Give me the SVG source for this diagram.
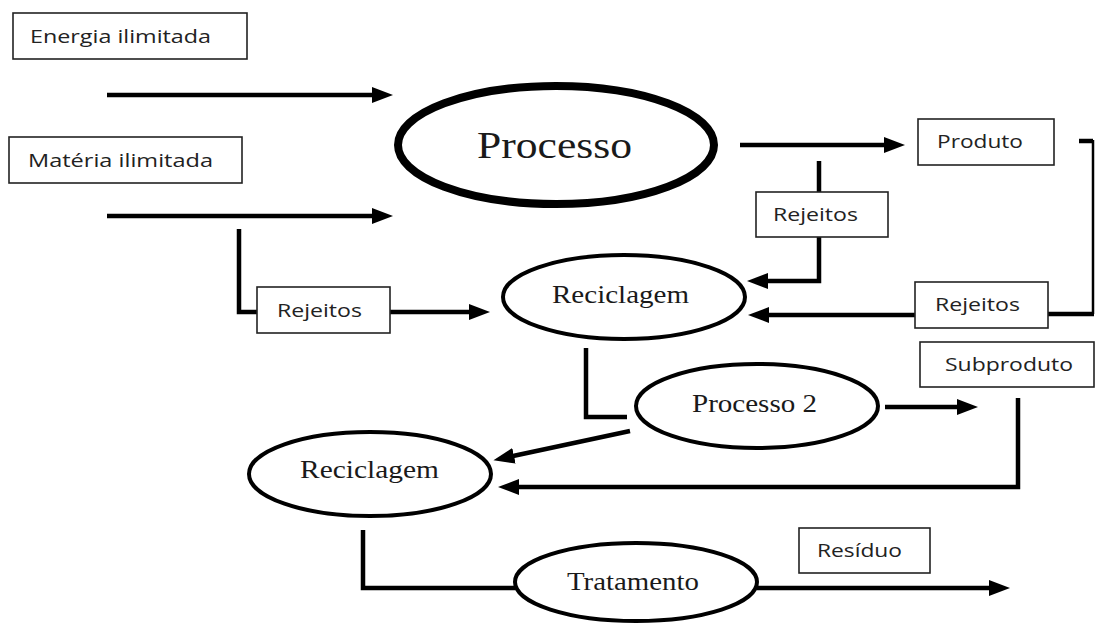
<svg xmlns="http://www.w3.org/2000/svg" width="1096" height="624" viewBox="0 0 1096 624">
<style>
.box{fill:#fff;stroke:#222;stroke-width:1.6}
.bt{font-family:"Open Sans","Noto Sans",sans-serif;font-size:18px;fill:#222}
.el{fill:#fff;stroke:#000;stroke-width:4}
.et{font-family:"Liberation Serif","DejaVu Serif",serif;fill:#1a1a1a;text-anchor:start}
.c{fill:none;stroke:#000;stroke-width:4.5;stroke-linejoin:miter}
.ca{fill:none;stroke:#000;stroke-width:4.5;marker-end:url(#ah)}
</style>
<defs>
<marker id="ah" markerUnits="userSpaceOnUse" markerWidth="22" markerHeight="18" viewBox="0 -9 22 18" refX="1" refY="0" orient="auto">
<path d="M0,-8 L21,0 L0,8 Z" fill="#000"/>
</marker>
</defs>
<rect width="1096" height="624" fill="#fff"/>
<g id="connectors">
<path class="ca" d="M107,95 H373"/>
<path class="ca" d="M107,216 H373"/>
<path class="ca" d="M740,145 H885"/>
<path class="c" d="M1079,141 H1093"/>
<path class="c" style="stroke-width:2.5" d="M1093,140 V314"/>
<path class="c" d="M1094,314 H1048"/>
<path class="ca" d="M915,315 H768"/>
<path class="c" d="M819,161 V192"/>
<path class="ca" d="M819,237 V281 H767"/>
<path class="c" d="M239,229 V312 H257"/>
<path class="ca" d="M390,312 H470"/>
<path class="c" d="M586,348 V417 H627"/>
<path class="ca" d="M630,431 L513,456"/>
<path class="ca" d="M885,407 H958"/>
<path class="ca" d="M1018,398 V487 H518"/>
<path class="c" d="M363,530 V588 H515"/>
<path class="ca" d="M757,588 H990"/>
</g>
<g id="energia">
<rect class="box" x="13" y="13" width="234" height="46"/>
<text class="bt" x="30" y="43" textLength="181" lengthAdjust="spacingAndGlyphs">Energia ilimitada</text>
</g>
<g id="materia">
<rect class="box" x="9" y="137" width="233" height="46"/>
<text class="bt" x="28" y="167" textLength="185" lengthAdjust="spacingAndGlyphs">Matéria ilimitada</text>
</g>
<g id="processo">
<ellipse class="el" cx="556" cy="145" rx="158" ry="59" style="stroke-width:8"/>
<text class="et" x="477" y="158" font-size="37" textLength="155" lengthAdjust="spacingAndGlyphs">Processo</text>
</g>
<g id="produto">
<rect class="box" x="918" y="119" width="136" height="46"/>
<text class="bt" x="937" y="148" textLength="86" lengthAdjust="spacingAndGlyphs">Produto</text>
</g>
<g id="rejeitos1">
<rect class="box" x="756" y="192" width="132" height="45"/>
<text class="bt" x="773" y="221" textLength="85" lengthAdjust="spacingAndGlyphs">Rejeitos</text>
</g>
<g id="rejeitos2">
<rect class="box" x="915" y="282" width="133" height="46"/>
<text class="bt" x="935" y="311" textLength="85" lengthAdjust="spacingAndGlyphs">Rejeitos</text>
</g>
<g id="rejeitos3">
<rect class="box" x="257" y="287" width="133" height="46"/>
<text class="bt" x="277" y="317" textLength="85" lengthAdjust="spacingAndGlyphs">Rejeitos</text>
</g>
<g id="reciclagem1">
<ellipse class="el" cx="624" cy="297" rx="121" ry="42"/>
<text class="et" x="552" y="303" font-size="25" textLength="137" lengthAdjust="spacingAndGlyphs">Reciclagem</text>
</g>
<g id="processo2">
<ellipse class="el" cx="757" cy="406" rx="121" ry="42"/>
<text class="et" x="692" y="412" font-size="25" textLength="125" lengthAdjust="spacingAndGlyphs">Processo 2</text>
</g>
<g id="subproduto">
<rect class="box" x="920" y="342" width="174" height="45"/>
<text class="bt" x="945" y="371" textLength="128" lengthAdjust="spacingAndGlyphs">Subproduto</text>
</g>
<g id="reciclagem2">
<ellipse class="el" cx="370" cy="474" rx="121" ry="42"/>
<text class="et" x="300" y="478" font-size="25" textLength="139" lengthAdjust="spacingAndGlyphs">Reciclagem</text>
</g>
<g id="residuo">
<rect class="box" x="799" y="528" width="131" height="45"/>
<text class="bt" x="817" y="557" textLength="85" lengthAdjust="spacingAndGlyphs">Resíduo</text>
</g>
<g id="tratamento">
<ellipse class="el" cx="636" cy="582" rx="121" ry="39"/>
<text class="et" x="567" y="590" font-size="25" textLength="132" lengthAdjust="spacingAndGlyphs">Tratamento</text>
</g>
</svg>
